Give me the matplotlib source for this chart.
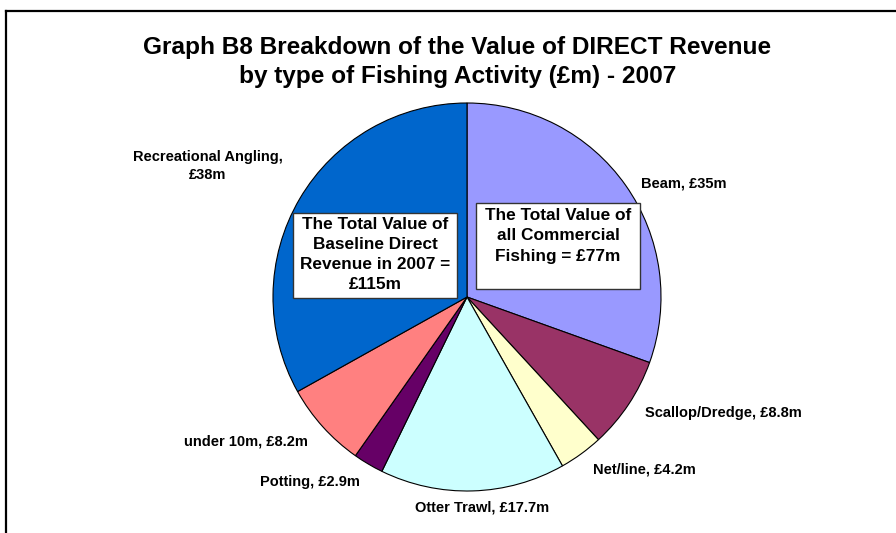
import matplotlib.pyplot as plt
from matplotlib.patches import Rectangle
from matplotlib.lines import Line2D

plt.rcParams['font.family'] = ['Liberation Sans', 'DejaVu Sans']
plt.rcParams['font.weight'] = 'bold'

# revenue by fishing activity, £m (2007)
activities = ['Beam', 'Scallop/Dredge', 'Net/line', 'Otter Trawl', 'Potting',
              'under 10m', 'Recreational Angling,\n']
revenue = [35, 8.8, 4.2, 17.7, 2.9, 8.2, 38]
colours = ['#9999FF', '#993366', '#FFFFCC', '#CCFFFF', '#660066', '#FF8080', '#0066CC']

total_direct = 115
total_commercial = 77

W, H = 896, 533
fig = plt.figure(figsize=(W / 100, H / 100), dpi=100)
ax = fig.add_axes([0, 0, 1, 1])


def yb(y):
    # pixel row (from top) -> axes y
    return H - y


cx, cy, R = 467, 297, 194
ax.pie(revenue, colors=colours, startangle=90, counterclock=False,
       center=(cx, yb(cy)), radius=R,
       wedgeprops=dict(edgecolor='black', linewidth=0.8))
ax.set_xlim(0, W)
ax.set_ylim(0, H)
ax.set_aspect('equal')
ax.axis('off')

# data labels placed outside the pie
label_pos = [(641, 183, 'left'), (645, 413, 'left'), (593, 470, 'left'),
             (482, 508, 'center'), (360, 482, 'right'), (308, 442, 'right'),
             (208, 166, 'center')]
for name, val, (x, y, ha) in zip(activities, revenue, label_pos):
    if name.endswith('\n'):
        txt = f"{name}£{val:g}m"
    else:
        txt = f"{name}, £{val:g}m"
    ax.text(x, yb(y), txt, ha=ha, va='center', fontsize=10.5,
            multialignment='center', linespacing=1.3)

# annotation boxes
ax.add_patch(Rectangle((293, yb(298)), 164, 85, facecolor='white',
                       edgecolor='#333333', linewidth=1, zorder=3))
ax.text(375, yb(254.5), f"The Total Value of\nBaseline Direct\nRevenue in 2007 =\n£{total_direct}m",
        ha='center', va='center', fontsize=12.4, linespacing=1.42, zorder=4)

ax.add_patch(Rectangle((476, yb(289)), 164, 86, facecolor='white',
                       edgecolor='#333333', linewidth=1, zorder=3))
ax.text(558, yb(236), f"The Total Value of\nall Commercial\nFishing = £{total_commercial}m",
        ha='center', va='center', fontsize=12.4, linespacing=1.42, zorder=4)

ax.text(457.5, yb(62), "Graph B8 Breakdown of the Value of DIRECT Revenue\n"
        "by type of Fishing Activity (£m) - 2007",
        ha='center', va='center', fontsize=17.6, linespacing=1.3)

# chart area border (left and top edges)
fig.add_artist(Line2D([6 / W, 6 / W], [0, 1 - 11 / H], color='black', linewidth=1.6,
                      transform=fig.transFigure))
fig.add_artist(Line2D([6 / W, 1], [1 - 11 / H, 1 - 11 / H], color='black', linewidth=1.6,
                      transform=fig.transFigure))

fig.savefig('out.png', dpi=100)
